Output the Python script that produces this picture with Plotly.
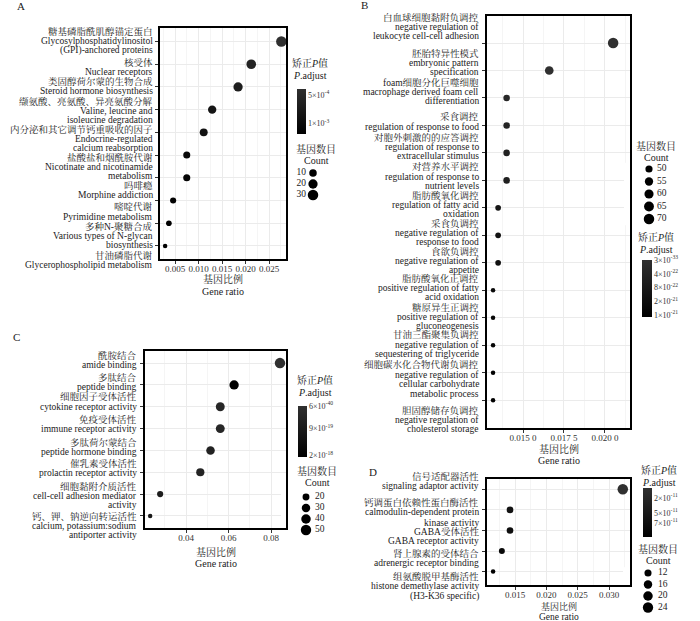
import plotly.graph_objects as go

W, H = 700, 621
SERIF = "Liberation Serif, Times New Roman, Noto Serif CJK SC, Noto Sans CJK SC, serif"

# ---------------- Panel A (KEGG) ----------------
A_CN = ["糖基磷脂酰肌醇锚定蛋白", "核受体", "类固醇荷尔蒙的生物合成", "缬氨酸、亮氨酸、异亮氨酸分解",
        "内分泌和其它调节钙重吸收的因子", "盐酸盐和烟酰胺代谢", "吗啡瘾", "嘧啶代谢", "多种N-聚糖合成", "甘油磷脂代谢"]
A_EN = ["Glycosylphosphatidylinositol\n(GPI)-anchored proteins", "Nuclear receptors", "Steroid hormone biosynthesis",
        "Valine, leucine and\nisoleucine degradation", "Endocrine-regulated\ncalcium reabsorption",
        "Nicotinate and nicotinamide\nmetabolism", "Morphine addiction", "Pyrimidine metabolism",
        "Various types of N-glycan\nbiosynthesis", "Glycerophospholipid metabolism"]
A_RATIO = [0.0276, 0.0212, 0.0184, 0.0129, 0.0111, 0.0075, 0.0075, 0.0046, 0.0037, 0.0029]
A_COUNT = [30, 23, 20, 14, 12, 8, 8, 5, 4, 3]
A_PADJ = [4.0e-4, 6.2e-4, 7.0e-4, 8.5e-4, 9.0e-4, 1.05e-3, 1.1e-3, 1.15e-3, 1.19e-3, 1.19e-3]
A_XTICKS = [0.005, 0.010, 0.015, 0.020, 0.025]
A_XTICKTEXT = ["0.005", "0.010", "0.015", "0.020", "0.025"]
A_CB_TICKS = [5e-4, 1e-3]
A_CB_TEXT = ["5×10<sup>-4</sup>", "1×10<sup>-3</sup>"]
A_LEG = [10, 20, 30]

# ---------------- Panel B (GO BP) ----------------
B_CN = ["白血球细胞黏附负调控", "胚胎特异性模式", "foam细胞分化巨噬细胞", "采食调控", "对胞外刺激的的应答调控",
        "对营养水平调控", "脂肪酸氧化调控", "采食负调控", "食欲负调控", "脂肪酸氧化正调控", "糖原异生正调控",
        "甘油三酯聚集负调控", "细胞碳水化合物代谢负调控", "胆固醇储存负调控"]
B_EN = ["negative regulation of\nleukocyte cell-cell adhesion", "embryonic pattern\nspecification",
        "macrophage derived foam cell\ndifferentiation", "regulation of response to food",
        "regulation of response to\nextracellular stimulus", "regulation of response to\nnutrient levels",
        "regulation of fatty acid\noxidation", "negative regulation of\nresponse to food",
        "negative regulation of\nappetite", "positive regulation of fatty\nacid oxidation",
        "positive regulation of\ngluconeogenesis", "negative regulation of\nsequestering of triglyceride",
        "negative regulation of\ncellular carbohydrate\nmetabolic process",
        "negative regulation of\ncholesterol storage"]
B_RATIO = [0.0205, 0.0166, 0.0140, 0.0140, 0.0140, 0.0140, 0.01348, 0.01348, 0.01348,
           0.01317, 0.01317, 0.01317, 0.01317, 0.01317]
B_COUNT = [70, 57, 48, 48, 48, 48, 46, 46, 46, 45, 45, 45, 45, 45]
B_PADJ = [3e-33, 1e-24, 3e-22, 4e-22, 5e-22, 6e-22, 9e-22, 1.0e-21, 1.1e-21, 1.3e-21, 1.4e-21,
          1.5e-21, 1.6e-21, 1.66e-21]
B_XTICKS = [0.015, 0.0175, 0.020]
B_XTICKTEXT = ["0.015 0", "0.017 5", "0.020 0"]
B_CB_TICKS = [3e-33, 4e-22, 8e-22, 1.2e-21, 1.6e-21]
B_CB_TEXT = ["3×10<sup>-33</sup>", "4×10<sup>-22</sup>", "8×10<sup>-22</sup>", "2×10<sup>-21</sup>", "1×10<sup>-21</sup>"]
B_LEG = [50, 55, 60, 65, 70]

# ---------------- Panel C (GO MF) ----------------
C_CN = ["酰胺结合", "多肽结合", "细胞因子受体活性", "免疫受体活性", "多肽荷尔蒙结合", "催乳素受体活性",
        "细胞黏附介质活性", "钙、钾、钠逆向转运活性"]
C_EN = ["amide binding", "peptide binding", "cytokine receptor activity", "immune receptor activity",
        "peptide hormone binding", "prolactin receptor activity", "cell-cell adhesion mediator\nactivity",
        "calcium, potassium:sodium\nantiporter activity"]
C_RATIO = [0.0842, 0.0626, 0.0561, 0.0561, 0.0515, 0.0467, 0.0278, 0.0231]
C_COUNT = [51, 38, 34, 34, 31, 28, 17, 14]
C_PADJ = [6e-40, 2.06e-18, 4e-19, 4e-19, 6e-19, 5e-19, 8e-19, 1.0e-18]
C_XTICKS = [0.04, 0.06, 0.08]
C_XTICKTEXT = ["0.04", "0.06", "0.08"]
C_CB_TICKS = [6e-40, 9e-19, 2e-18]
C_CB_TEXT = ["6×10<sup>-40</sup>", "9×10<sup>-19</sup>", "2×10<sup>-18</sup>"]
C_LEG = [20, 30, 40, 50]

# ---------------- Panel D (GO MF) ----------------
D_CN = ["信号适配器活性", "钙调蛋白依赖性蛋白酶活性", "GABA受体活性", "肾上腺素的受体结合", "组氨酸脱甲基酶活性"]
D_EN = ["signaling adaptor activity", "calmodulin-dependent protein\nkinase activity", "GABA receptor activity",
        "adrenergic receptor binding", "histone demethylase activity\n(H3-K36 specific)"]
D_RATIO = [0.0322, 0.0142, 0.0142, 0.0129, 0.0115]
D_COUNT = [25, 11, 11, 10, 9]
D_PADJ = [1e-13, 6e-11, 7e-11, 8e-11, 9.8e-11]
D_XTICKS = [0.015, 0.020, 0.025, 0.030]
D_XTICKTEXT = ["0.015", "0.020", "0.025", "0.030"]
D_CB_TICKS = [2e-11, 5e-11, 7e-11]
D_CB_TEXT = ["2×10<sup>-11</sup>", "5×10<sup>-11</sup>", "7×10<sup>-11</sup>"]
D_LEG = [12, 16, 20, 24]

XTITLE = ["基因比例", "Gene ratio"]
CBTITLE = ["矫正<i>P</i>值", "<i>P</i>.adjust"]
LEGTITLE = ["基因数目", "Count"]

# ---------------- layout / style (pixels) ----------------
PANELS = [
    dict(letter="A", letter_xy=(21, 6), cn=A_CN, en=A_EN, ratio=A_RATIO, count=A_COUNT, padj=A_PADJ,
         xt=A_XTICKS, xtt=A_XTICKTEXT, cbt=A_CB_TICKS, cbtt=A_CB_TEXT, leg=A_LEG,
         box=(159, 287, 27, 260), xr=(0.0016, 0.0288), ypad=(0.64, 0.62),
         ltop=[31, 62, 81, 101, 129, 157, 185, 207, 226, 255], ldy=9.7, lright=155,
         xtitle_y=(279, 291), xtsize=(10, 10), cb=(297, 89, 45, 9), cbtitle=(310, 63, 76),
         legtitle=(316, 149, 160), legpos=(173, 11, 313, -7, "middle left")),
    dict(letter="B", letter_xy=(364, 5), cn=B_CN, en=B_EN, ratio=B_RATIO, count=B_COUNT, padj=B_PADJ,
         xt=B_XTICKS, xtt=B_XTICKTEXT, cbt=B_CB_TICKS, cbtt=B_CB_TEXT, leg=B_LEG,
         box=(486, 631, 15, 429), xr=(0.01274, 0.02159), ypad=(1.02, 1.05),
         ltop=[17, 53, 82, 117, 137, 167, 195, 223, 251, 278, 307, 335, 365, 410], ldy=9.6, lright=481,
         xtitle_y=(449, 460), xtsize=(10, 10), cb=(642, 260, 57, 10), cbtitle=(656, 237, 249),
         legtitle=(656, 146, 157), legpos=(169, 12.5, 649, 8, "middle right")),
    dict(letter="C", letter_xy=(16, 337), cn=C_CN, en=C_EN, ratio=C_RATIO, count=C_COUNT, padj=C_PADJ,
         xt=C_XTICKS, xtt=C_XTICKTEXT, cbt=C_CB_TICKS, cbtt=C_CB_TEXT, leg=C_LEG,
         box=(144, 287, 350, 529), xr=(0.0202, 0.0875), ypad=(0.6, 0.6),
         ltop=[355, 377, 397, 419, 442, 463, 486, 516], ldy=9.6, lright=139,
         xtitle_y=(552, 563), xtsize=(10, 10), cb=(298, 406, 51, 9), cbtitle=(315, 380, 392),
         legtitle=(317, 471, 482), legpos=(497, 11, 306, 9, "middle right")),
    dict(letter="D", letter_xy=(373, 472), cn=D_CN, en=D_EN, ratio=D_RATIO, count=D_COUNT, padj=D_PADJ,
         xt=D_XTICKS, xtt=D_XTICKTEXT, cbt=D_CB_TICKS, cbtt=D_CB_TEXT, leg=D_LEG,
         box=(486, 631, 478, 586), xr=(0.01037, 0.03351), ypad=(0.55, 0.7),
         ltop=[476, 502, 531, 553, 576], ldy=10.3, lright=481,
         xtitle_y=(606, 616.5), xtsize=(9, 9.5), cb=(643, 488, 49, 9), cbtitle=(659, 470, 482),
         legtitle=(658, 549, 560), legpos=(573, 11.5, 648, 10, "middle right")),
]

DMIN, DMAX = 4.5, 10.5
COLORSCALE = [[0, "#000000"], [1, "#303030"]]


def size_of(v, vmin, vmax):
    t = (v - vmin) / (vmax - vmin)
    t = min(max(t, 0), 1)
    return DMIN + (DMAX - DMIN) * t ** 0.5


def text_ann(x, y, text, size=10, anchor="center"):
    return dict(x=x / W, y=1 - y / H, xref="paper", yref="paper", xanchor=anchor, yanchor="middle",
                text=text, showarrow=False, font=dict(size=size, family=SERIF, color="#222"))


fig = go.Figure()
layout = dict(template="none", width=W, height=H, autosize=False,
              margin=dict(l=0, r=0, t=0, b=0, pad=0, autoexpand=False),
              paper_bgcolor="white", plot_bgcolor="white", showlegend=False,
              font=dict(family=SERIF, color="#222"))
annotations = []
shapes = []

for k, P in enumerate(PANELS):
    ax = "" if k == 0 else str(k + 1)
    xa, ya = "x" + ax, "y" + ax
    ca = "coloraxis" + ("" if k == 0 else str(k + 1))
    n = len(P["cn"])
    vmin, vmax = min(P["count"]), max(P["count"])
    x0, x1, y0, y1 = P["box"]

    fig.add_trace(go.Scatter(
        x=P["ratio"], y=list(range(n)), mode="markers", xaxis=xa, yaxis=ya,
        marker=dict(size=[size_of(c, vmin, vmax) for c in P["count"]], opacity=1,
                    color=[-p for p in P["padj"]], coloraxis=ca, line=dict(width=0)),
        hoverinfo="x+y"))

    step = P["xt"][1] - P["xt"][0]
    minor_vals = [t - step / 2 for t in P["xt"]] + [P["xt"][-1] + step / 2]
    layout["xaxis" + ax] = dict(
        domain=[x0 / W, x1 / W], range=list(P["xr"]), anchor=ya, automargin=False,
        tickmode="array", tickvals=P["xt"], ticktext=P["xtt"], tickangle=0,
        ticks="outside", ticklen=3, tickwidth=1, tickcolor="#333", ticklabelstandoff=-3,
        tickfont=dict(size=9, color="#333", family=SERIF),
        showline=False, showgrid=True, gridcolor="#ebebeb", gridwidth=1, zeroline=False,
        minor=dict(tickmode="array", tickvals=minor_vals, showgrid=True, gridcolor="#f5f5f5",
                   gridwidth=0.7, ticks=""))
    layout["yaxis" + ax] = dict(
        domain=[1 - y1 / H, 1 - y0 / H], range=[n - 1 + P["ypad"][1], -P["ypad"][0]], anchor=xa,
        automargin=False, tickmode="array", tickvals=list(range(n)), showticklabels=False,
        ticks="outside", ticklen=3, tickwidth=1, tickcolor="#333",
        showline=False, showgrid=True, gridcolor="#ebebeb", gridwidth=1, zeroline=False)

    # panel border
    shapes.append(dict(type="rect", xref=xa + " domain", yref=ya + " domain", x0=0, x1=1, y0=0, y1=1,
                       line=dict(color="black", width=2), fillcolor="rgba(0,0,0,0)", layer="above"))

    cbx, cbtop, cblen, cbth = P["cb"]
    layout[ca] = dict(
        cmin=-max(P["padj"]), cmax=-min(P["padj"]), colorscale=COLORSCALE,
        colorbar=dict(x=cbx / W, xanchor="left", y=1 - cbtop / H, yanchor="top",
                      len=cblen, lenmode="pixels", thickness=cbth, thicknessmode="pixels",
                      xpad=0, ypad=0, outlinewidth=0, ticks="",
                      tickmode="array", tickvals=[-t for t in P["cbt"]], ticktext=P["cbtt"],
                      tickfont=dict(size=8, family=SERIF, color="#333")))

    # category labels (Chinese + English lines)
    for ci, (cn, en) in enumerate(zip(P["cn"], P["en"])):
        lines = [cn] + en.split("\n")
        for li, line in enumerate(lines):
            ypx = P["ltop"][ci] + li * P["ldy"]
            annotations.append(text_ann(P["lright"], ypx, line, size=9.5, anchor="right"))

    # x-axis title (two lines)
    for line, yy, fs in zip(XTITLE, P["xtitle_y"], P["xtsize"]):
        annotations.append(text_ann((x0 + x1) / 2, yy, line, size=fs))
    # panel letter
    lx, ly = P["letter_xy"]
    annotations.append(text_ann(lx, ly, P["letter"], size=11))
    # colorbar title
    tx, ty1, ty2 = P["cbtitle"]
    for line, yy in zip(CBTITLE, (ty1, ty2)):
        annotations.append(text_ann(tx, yy, line, size=10))
    # size legend title
    gx, gy1, gy2 = P["legtitle"]
    for line, yy in zip(LEGTITLE, (gy1, gy2)):
        annotations.append(text_ann(gx, yy, line, size=10))

    # size legend drawn on a hidden helper axis
    first, dy, dotx, toff, tpos = P["legpos"]
    m = len(P["leg"])
    lax = str(k + 5)
    layout["xaxis" + lax] = dict(domain=[(dotx - 25) / W, (dotx + 25) / W], range=[-25, 25],
                                 visible=False, showline=False, showgrid=False, zeroline=False,
                                 showticklabels=False, anchor="y" + lax, fixedrange=True)
    layout["yaxis" + lax] = dict(domain=[1 - (first + (m - 0.5) * dy) / H, 1 - (first - 0.5 * dy) / H],
                                 range=[m - 0.5, -0.5], visible=False, showline=False, showgrid=False,
                                 showticklabels=False, zeroline=False, anchor="x" + lax, fixedrange=True)
    fig.add_trace(go.Scatter(x=[0] * m, y=list(range(m)), mode="markers", xaxis="x" + lax, yaxis="y" + lax,
                             marker=dict(size=[size_of(v, vmin, vmax) for v in P["leg"]], color="#000",
                                         opacity=1, line=dict(width=0)),
                             cliponaxis=False, hoverinfo="skip"))
    fig.add_trace(go.Scatter(x=[toff] * m, y=list(range(m)), mode="text", xaxis="x" + lax, yaxis="y" + lax,
                             text=[str(v) for v in P["leg"]], textposition=tpos,
                             textfont=dict(size=9.5, family=SERIF, color="#222"),
                             cliponaxis=False, hoverinfo="skip"))

layout["annotations"] = annotations
layout["shapes"] = shapes
fig.update_layout(**layout)
fig.write_html("out.html", config={"displayModeBar": False},
               post_script="document.body.style.margin='0';document.body.style.padding='0';")
